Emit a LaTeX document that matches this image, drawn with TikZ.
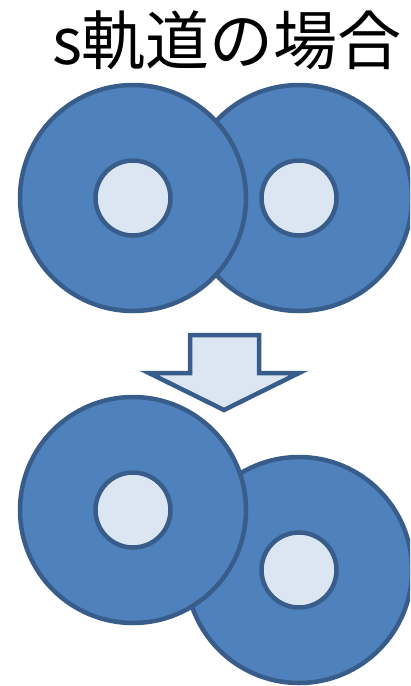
\documentclass[tikz,border=0pt]{standalone}
\usepackage{fontspec}
\newfontfamily\cjk{Noto Sans CJK JP}
\definecolor{outerfill}{HTML}{4F81BD}
\definecolor{edge}{HTML}{385D8A}
\definecolor{innerfill}{HTML}{DCE6F2}
\tikzset{
  orbit/.style={circle, draw=edge, fill=outerfill, line width=4.5pt, minimum size=226pt, inner sep=0pt},
  core/.style={circle, draw=edge, fill=innerfill, line width=4.5pt, minimum size=75pt, inner sep=0pt},
  blockarrow/.style={draw=edge, fill=innerfill, line width=4.5pt, line join=miter}
}
\begin{document}
\begin{tikzpicture}[x=1pt,y=-1pt]
\useasboundingbox (0,0) rectangle (410,686);
\clip (0,0) rectangle (410,686);
\node[inner sep=0pt, anchor=base, font=\cjk\fontsize{64}{70}\selectfont] (title) at (227,64) {s軌道の場合};
% top pair
\node[orbit] (TR) at (299,198) {};
\node[core] (TRc) at (TR.center) {};
\node[orbit] (TL) at (133,198) {};
\node[core] (TLc) at (TL.center) {};
% arrow
\draw[blockarrow] (190,335) -- (259,335) -- (259,373) -- (299,373) -- (224,410) -- (149,373) -- (190,373) -- cycle;
% bottom pair
\node[orbit] (BR) at (299,570) {};
\node[core] (BRc) at (BR.center) {};
\node[orbit] (BL) at (133,510) {};
\node[core] (BLc) at (BL.center) {};
\end{tikzpicture}
\end{document}
